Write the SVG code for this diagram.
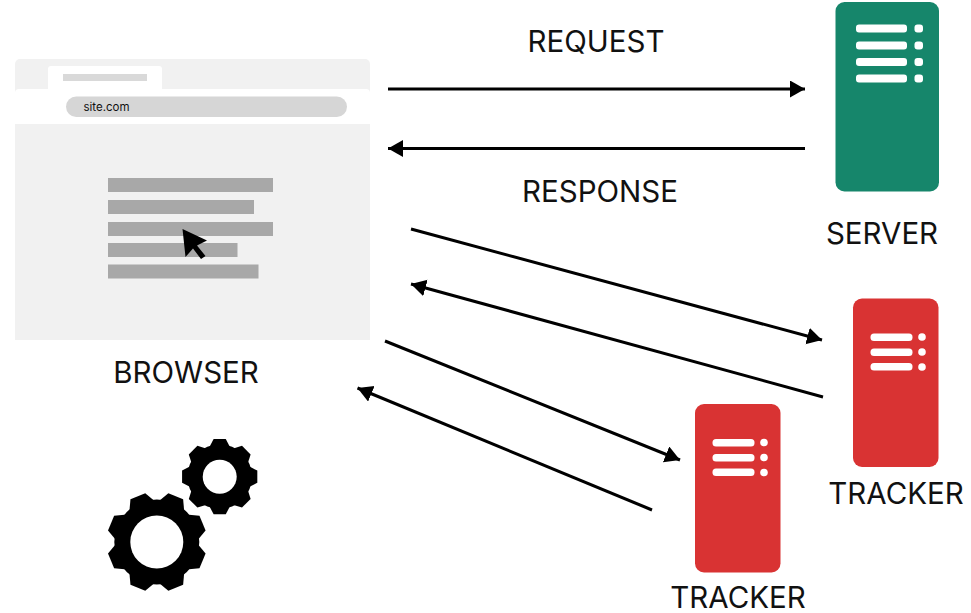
<svg xmlns="http://www.w3.org/2000/svg" width="971" height="613" viewBox="0 0 971 613">
<style>
text{font-family:Inter,"Liberation Sans",sans-serif;fill:#111}
.lbl{font-size:29.500px}
.line{fill:#a8a8a8}
.hi{fill:#fff}
.wire{stroke:#000;stroke-width:3;fill:none;marker-end:url(#arr)}
.green{fill:#16866b}
.red{fill:#d93333}
</style>
<defs>
<marker id="arr" markerUnits="userSpaceOnUse" markerWidth="17" markerHeight="18" refX="15" refY="8.500" orient="auto"><path d="M0 0L15 8.500L0 17Z" fill="#000"/></marker>
<path id="tooth" d="M-14-38L-8-49.500L8-49.500L14-38Z"/>
<g id="gear">
<circle r="42.500"/>
<use href="#tooth" transform="rotate(22.5)"/><use href="#tooth" transform="rotate(67.5)"/><use href="#tooth" transform="rotate(112.5)"/><use href="#tooth" transform="rotate(157.5)"/><use href="#tooth" transform="rotate(202.5)"/><use href="#tooth" transform="rotate(247.500)"/><use href="#tooth" transform="rotate(292.5)"/><use href="#tooth" transform="rotate(337.5)"/>
</g>
</defs>
<rect width="971" height="613" fill="#fff"/>
<g id="browser">
<path d="M15 340V64a5 5 0 0 1 5-5H365a5 5 0 0 1 5 5V340Z" fill="#f1f1f1"/>
<path d="M15 124V93a4 4 0 0 1 4-4H366a4 4 0 0 1 4 4V124Z" fill="#fff"/>
<path d="M48 90V69a3 3 0 0 1 3-3H159a3 3 0 0 1 3 3V90Z" fill="#fff"/>
<rect x="63" y="74" width="84" height="7" fill="#d9d9d9"/>
<rect x="66" y="96.500" width="281" height="20.500" rx="10.200" fill="#d6d6d6"/>
<text x="83.500" y="111" font-size="11.500">site.com</text>
<rect class="line" x="108" y="178" width="165" height="14"/>
<rect class="line" x="108" y="200" width="146" height="14"/>
<rect class="line" x="108" y="222" width="165" height="14"/>
<rect class="line" x="108" y="243" width="129.500" height="14"/>
<rect class="line" x="108" y="264.500" width="150.500" height="14"/>
<path d="M182.500 229L207 240.500L197 245.500L205.500 256L201 259L193 248.500L185.500 257Z" fill="#000"/>
<text class="lbl" x="186" y="383" text-anchor="middle">BROWSER</text>
</g>
<g id="gears">
<use href="#gear" transform="translate(156.800 542)"/>
<circle cx="156.800" cy="542" r="26.500" fill="#fff"/>
<use href="#gear" transform="translate(219.700 476.700) scale(.76) rotate(22.5)"/>
<circle cx="219.700" cy="476.700" r="17" fill="#fff"/>
</g>
<g id="server">
<rect class="green" x="835.500" y="2" width="103.500" height="189.500" rx="9"/>
<rect class="hi" x="856" y="24.500" width="51" height="8" rx="3"/><rect class="hi" x="856" y="41.500" width="51" height="8" rx="3"/><rect class="hi" x="856" y="58" width="51" height="8" rx="3"/><rect class="hi" x="856" y="74.500" width="51" height="8" rx="3"/>
<rect class="hi" x="914.500" y="24.500" width="8.500" height="8" rx="3"/><rect class="hi" x="914.500" y="41.500" width="8.500" height="8" rx="3"/><rect class="hi" x="914.500" y="58" width="8.500" height="8" rx="3"/><rect class="hi" x="914.500" y="74.500" width="8.500" height="8" rx="3"/>
<text class="lbl" x="882" y="244" text-anchor="middle">SERVER</text>
</g>
<g id="tracker1">
<rect class="red" x="853" y="298.500" width="85.500" height="168.500" rx="9"/>
<rect class="hi" x="870.500" y="333.500" width="42" height="7.500" rx="3.500"/><rect class="hi" x="870.500" y="348.500" width="42" height="7.500" rx="3.500"/><rect class="hi" x="870.500" y="363" width="42" height="7.500" rx="3.500"/>
<circle class="hi" cx="922" cy="337" r="3.800"/><circle class="hi" cx="922" cy="352" r="3.800"/><circle class="hi" cx="922" cy="367" r="3.800"/>
<text class="lbl" x="896" y="503.500" text-anchor="middle">TRACKER</text>
</g>
<g id="tracker2">
<rect class="red" x="695" y="404" width="85.500" height="168.500" rx="9"/>
<rect class="hi" x="712.500" y="439" width="42" height="7.500" rx="3.500"/><rect class="hi" x="712.500" y="454" width="42" height="7.500" rx="3.500"/><rect class="hi" x="712.500" y="468.500" width="42" height="7.500" rx="3.500"/>
<circle class="hi" cx="764" cy="442.500" r="3.800"/><circle class="hi" cx="764" cy="457.500" r="3.800"/><circle class="hi" cx="764" cy="472.500" r="3.800"/>
<text class="lbl" x="738" y="608" text-anchor="middle">TRACKER</text>
</g>
<g id="connectors">
<line class="wire" x1="388" y1="89" x2="805" y2="89"/>
<line class="wire" x1="805" y1="148.500" x2="388" y2="148.500"/>
<line class="wire" x1="411" y1="229" x2="822" y2="340"/>
<line class="wire" x1="823" y1="397" x2="411" y2="284"/>
<line class="wire" x1="385" y1="341" x2="680" y2="460"/>
<line class="wire" x1="652" y1="510" x2="357.500" y2="388"/>
<text class="lbl" x="596" y="51.500" text-anchor="middle">REQUEST</text>
<text class="lbl" x="600" y="202" text-anchor="middle">RESPONSE</text>
</g>
</svg>
